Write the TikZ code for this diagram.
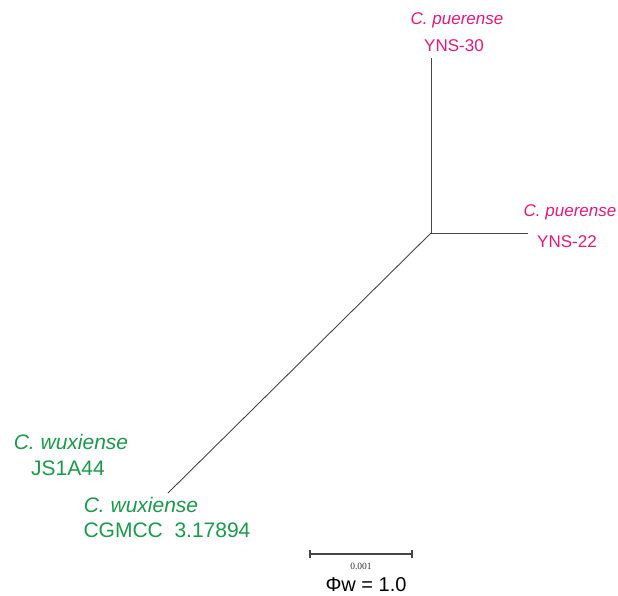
\documentclass[tikz,border=0pt]{standalone}
\usepackage{fontspec}
\setmainfont{Liberation Sans}
\newfontfamily\serifsc{Liberation Serif}
\definecolor{pinkc}{RGB}{230,24,125}
\definecolor{greenc}{RGB}{26,155,75}
\definecolor{linec}{RGB}{70,70,70}
\begin{document}
\begin{tikzpicture}[x=1pt,y=-1pt,
  branch/.style={draw=linec,line width=0.9pt},
  scalebar/.style={draw=linec,line width=1.4pt},
  pk/.style={inner sep=0pt,text=pinkc,font=\fontsize{17}{20}\selectfont},
  gr/.style={inner sep=0pt,text=greenc,font=\fontsize{21}{24}\selectfont}]
\useasboundingbox (0,0) rectangle (618,595);
\fill[white] (0,0) rectangle (618,595);
% tree
\coordinate (root) at (431,233);
\coordinate (t30) at (431,58);
\coordinate (t22) at (528,233);
\coordinate (tw) at (168,493);
\draw[branch] (root) -- (t30);
\draw[branch] (root) -- (t22);
\draw[branch] (root) -- (tw);
% labels
\node[pk] (a1) at (457,20) {\itshape C. puerense};
\node[pk] (a2) at (454,46) {YNS-30};
\node[pk] (b1) at (570,212) {\itshape C. puerense};
\node[pk] (b2) at (567,242) {YNS-22};
\node[gr] (c1) at (71,442) {\itshape C. wuxiense};
\node[gr] (c2) at (68,468) {JS1A44};
\node[gr] (d1) at (141,505) {\itshape C. wuxiense};
\node[gr] (d2) at (167,530) {CGMCC\ \ 3.17894};
% scale bar
\coordinate (s1) at (310,554);
\coordinate (s2) at (412,554);
\draw[scalebar] (s1) -- (s2);
\draw[scalebar] ([yshift=-4]s1) -- ([yshift=4]s1);
\draw[scalebar] ([yshift=-4]s2) -- ([yshift=4]s2);
\node[inner sep=0pt,font=\fontsize{9.5}{11}\selectfont\serifsc,text=black!80] (sc) at (361,566) {0.001};
\node[inner sep=0pt,font=\fontsize{20}{23}\selectfont] (phi) at (366,585) {Φw = 1.0};
\end{tikzpicture}
\end{document}
